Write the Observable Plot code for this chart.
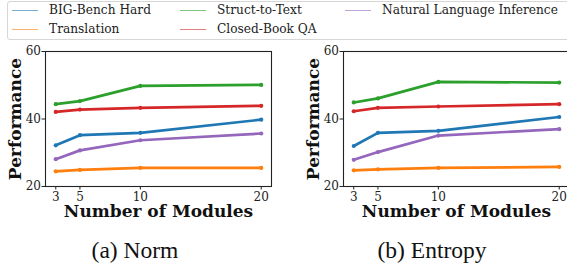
<!DOCTYPE html>
<html>
<head>
<meta charset="utf-8">
<script src="https://cdn.jsdelivr.net/npm/d3@7"></script>
<script src="https://cdn.jsdelivr.net/npm/@observablehq/plot@0.6"></script>
<style>
  html, body { margin: 0; padding: 0; background: #fff; }
  #wrap { position: relative; width: 567px; height: 271px; overflow: hidden; background: #fff; }
  .panel { position: absolute; top: 0; overflow: visible; }
  #legend { position: absolute; left: 7px; top: 1px; width: 570px; height: 39px; border: 1px solid #d6d6d6; border-radius: 3px; background: #fff; box-sizing: border-box; }
  .li { position: absolute; font-family: "DejaVu Serif", serif; font-size: 12.2px; color: #222; white-space: nowrap; line-height: 12px; }
  .sw { position: absolute; height: 0; border-top: 1.5px solid; opacity: 0.6; }
  .cap { position: absolute; font-family: "Liberation Serif", "Times New Roman", serif; font-size: 23.5px; color: #111; white-space: nowrap; transform: translateX(-50%); }
</style>
</head>
<body>
<div id="wrap"></div>
<script>
const modules = [3, 5, 10, 20];
const seriesNames = ["BIG-Bench Hard", "Translation", "Struct-to-Text", "Closed-Book QA", "Natural Language Inference"];
const seriesColors = ["#1f77b4", "#ff7f0e", "#2ca02c", "#d62728", "#9467bd"];
const yTicks = [20, 40, 60];

// (a) Norm
const normBBH = [32.2, 35.2, 35.9, 39.8];
const normTranslation = [24.5, 24.9, 25.5, 25.5];
const normStruct = [44.4, 45.3, 49.8, 50.1];
const normCBQA = [42.1, 42.8, 43.3, 43.9];
const normNLI = [28.1, 30.7, 33.7, 35.7];

// (b) Entropy
const entBBH = [32.0, 35.9, 36.5, 40.6];
const entTranslation = [24.8, 25.1, 25.5, 25.8];
const entStruct = [44.9, 46.1, 51.0, 50.8];
const entCBQA = [42.3, 43.3, 43.7, 44.4];
const entNLI = [27.9, 30.2, 35.1, 37.0];

const captions = ["(a) Norm", "(b) Entropy"];

function toRows(arrs) {
  const rows = [];
  arrs.forEach((vals, i) => vals.forEach((v, j) => rows.push({series: seriesNames[i], m: modules[j], v})));
  return rows;
}

function panel(arrs) {
  const data = toRows(arrs);
  return Plot.plot({
    width: 290, height: 225,
    marginLeft: 45, marginRight: 19, marginTop: 51, marginBottom: 39,
    style: {fontFamily: "DejaVu Serif, serif", fontSize: "12px", color: "#222", background: "transparent", overflow: "visible"},
    x: {domain: [2.15, 20.85]},
    y: {domain: [20, 60]},
    color: {domain: seriesNames, range: seriesColors},
    marks: [
      Plot.line(data, {x: "m", y: "v", z: "series", stroke: "series", strokeWidth: 2.7}),
      Plot.dot(data, {x: "m", y: "v", fill: "series", r: 2.1}),
      Plot.frame({stroke: "#222", strokeWidth: 1.1}),
      Plot.axisY({ticks: yTicks, tickSize: 3.5, tickPadding: 1, label: null, fontSize: 12, tickFormat: d => d}),
      Plot.axisX({ticks: modules, tickSize: 3.5, tickPadding: 2, label: null, fontSize: 12, tickFormat: d => d}),
      Plot.text(["Performance"], {frameAnchor: "left", text: d => d, rotate: -90, dx: -30, textAnchor: "middle", lineAnchor: "middle", fontSize: 17, fontWeight: "bold", fill: "#111"}),
      Plot.text(["Number of Modules"], {frameAnchor: "bottom", text: d => d, dy: 25, textAnchor: "middle", lineAnchor: "middle", fontSize: 17, fontWeight: "bold", fill: "#111"})
    ]
  });
}

const wrap = document.getElementById("wrap");
const p1 = panel([normBBH, normTranslation, normStruct, normCBQA, normNLI]);
p1.classList.add("panel"); p1.style.left = "0px";
const p2 = panel([entBBH, entTranslation, entStruct, entCBQA, entNLI]);
p2.classList.add("panel"); p2.style.left = "297.5px";
wrap.appendChild(p1);
wrap.appendChild(p2);

// legend
const legend = document.createElement("div");
legend.id = "legend";
wrap.appendChild(legend);
const legPos = [
  {lx: 4, tx: 41, y: 9},
  {lx: 4, tx: 41, y: 28},
  {lx: 172, tx: 209, y: 9},
  {lx: 172, tx: 209, y: 28},
  {lx: 337, tx: 374, y: 9}
];
seriesNames.forEach((name, i) => {
  const p = legPos[i];
  const sw = document.createElement("div");
  sw.className = "sw";
  sw.style.left = p.lx + "px"; sw.style.top = (p.y - 0.75) + "px"; sw.style.width = "26px";
  sw.style.borderTopColor = seriesColors[i];
  legend.appendChild(sw);
  const t = document.createElement("div");
  t.className = "li";
  t.style.left = p.tx + "px"; t.style.top = (p.y - 7) + "px";
  t.textContent = name;
  legend.appendChild(t);
});

// captions
[[135, captions[0]], [432, captions[1]]].forEach(([x, txt]) => {
  const c = document.createElement("div");
  c.className = "cap";
  c.style.left = x + "px"; c.style.top = "237px";
  c.textContent = txt;
  wrap.appendChild(c);
});
</script>
</body>
</html>
